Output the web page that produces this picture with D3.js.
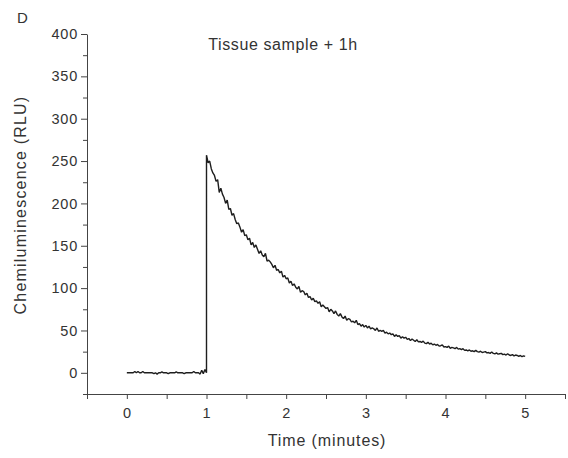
<!DOCTYPE html>
<html>
<head>
<meta charset="utf-8">
<script src="https://cdn.jsdelivr.net/npm/d3@7"></script>
<style>
  body { margin: 0; background: #fff; }
  text { font-family: "Liberation Sans", Arial, sans-serif; fill: #333; }
</style>
</head>
<body>
<div id="chart-container"></div>
<script>
// Sampling interval of the trace (minutes)
const sampleStep = 0.02;

// Baseline before the injection, t = 0 .. 1.00 min (RLU)
const baselineValues = [
  0, 0, 0, 0, 0, 1.5, 0, 1.5, 0, 0,
  1.5, 0, 0, 0, 0, 0, 0, -1, 0, -1.5,
  0, 0, 1, 0, 0, 0, -1, 0, 0, 0,
  0, 1, 0, 0, 0, 0, -1, 0, 0, 0,
  0, 0, 1.5, 0, 0, 0, -1.5, 3, -1, 4,
  0
];

// Decay after the injection, t = 1.00 .. 5.00 min (RLU)
const decayValues = [
  257, 248, 250, 241, 236, 233, 226, 228, 213, 218,
  211, 207, 200, 204, 193, 194, 186, 188, 181, 176,
  177, 172, 166, 169, 162, 163, 157, 159, 151, 154,
  148, 151, 146, 141, 144, 139, 137, 141, 132, 133,
  131, 128, 124, 127, 121, 122, 118, 120, 113, 115,
  111, 112, 106, 108, 103, 105, 101, 99, 102, 95,
  97, 96, 92, 94, 89, 90, 86, 88, 84, 85,
  82, 84, 78, 80, 78, 76, 77, 72, 75, 73,
  70, 73, 69, 67, 70, 66, 64, 67, 62, 64,
  63, 60, 61, 59, 62, 57, 58, 55, 57, 54,
  56, 53, 55, 52, 53, 52, 50, 53, 49, 50,
  49, 50, 47, 48, 46, 47, 45, 46, 43, 45,
  43, 44, 41, 42.5, 41, 42, 39.5, 40.5, 38, 40,
  38.5, 37, 39, 36.5, 37, 36, 37.5, 35, 34.5, 36,
  34, 35, 33, 34, 32.5, 33.5, 31.5, 32, 33, 30.5,
  31, 30, 31.5, 29, 30, 29.5, 28.5, 30, 28, 28.5,
  27.5, 28.5, 26.5, 27, 26, 27, 25.5, 26, 25, 26.5,
  25, 24.5, 25.5, 24, 24.5, 25, 23.5, 24, 23, 24.5,
  23, 22.5, 23.5, 22, 22.5, 23, 21.5, 22, 21, 22.5,
  21, 20.5, 21.5, 20, 21, 20.5, 19.5, 20.5, 19, 20,
  19.5
];

const xTicks = [0, 1, 2, 3, 4, 5];
const yTicks = [0, 50, 100, 150, 200, 250, 300, 350, 400];

const width = 568;
const height = 458;
const marginLeft = 87;
const marginRight = 3;
const marginTop = 34;
const marginBottom = 64;

const x = d3.scaleLinear()
  .domain([-0.5, 5.5])
  .range([marginLeft, width - marginRight]);

const y = d3.scaleLinear()
  .domain([-25, 400])
  .range([height - marginBottom, marginTop]);

// Build the trace points
const trace = baselineValues.map((v, i) => ({ t: i * sampleStep, v: v }))
  .concat(decayValues.map((v, i) => ({ t: 1 + i * sampleStep, v: v })));

const svg = d3.create("svg")
  .attr("width", width)
  .attr("height", height)
  .attr("viewBox", [0, 0, width, height]);

// x axis: minor ticks every 0.5 min, labels on whole minutes
svg.append("g")
  .attr("transform", `translate(0,${height - marginBottom})`)
  .call(d3.axisBottom(x).tickValues(d3.range(-0.5, 5.51, 0.5)).tickSize(5).tickSizeOuter(0)
    .tickFormat(d => xTicks.includes(d) ? d3.format("d")(d) : ""))
  .call(g => g.selectAll("text").attr("font-size", 14.5).attr("font-family", null)
    .attr("letter-spacing", 0.8).attr("dy", "1.1em"))
  .call(g => g.selectAll("line, path").attr("stroke", "#444"));

// y axis
svg.append("g")
  .attr("transform", `translate(${marginLeft},0)`)
  .call(d3.axisLeft(y).tickValues(d3.range(-25, 401, 25)).tickSize(5).tickSizeOuter(0)
    .tickFormat(d => yTicks.includes(d) ? d : ""))
  .call(g => g.selectAll("text").attr("font-size", 14.5).attr("font-family", null)
    .attr("letter-spacing", 0.8).attr("x", -9))
  .call(g => g.selectAll(".tick line").attr("x2", d => yTicks.includes(d) ? -6 : -4))
  .call(g => g.selectAll("line, path").attr("stroke", "#444"));

// Trace
const line = d3.line()
  .x(d => x(d.t))
  .y(d => y(d.v));

svg.append("path")
  .datum(trace)
  .attr("fill", "none")
  .attr("stroke", "#1e1e1e")
  .attr("stroke-width", 1.4)
  .attr("stroke-linejoin", "bevel")
  .attr("d", line);

// Labels
svg.append("text")
  .attr("x", 283)
  .attr("y", 50)
  .attr("text-anchor", "middle")
  .attr("font-size", 16)
  .attr("letter-spacing", 0.6)
  .text("Tissue sample + 1h");

svg.append("text")
  .attr("x", 17)
  .attr("y", 23)
  .attr("font-size", 15)
  .text("D");

svg.append("text")
  .attr("x", 327)
  .attr("y", 446)
  .attr("text-anchor", "middle")
  .attr("font-size", 16)
  .attr("letter-spacing", 0.9)
  .text("Time (minutes)");

svg.append("text")
  .attr("transform", "translate(26,205) rotate(-90)")
  .attr("text-anchor", "middle")
  .attr("font-size", 16)
  .attr("letter-spacing", 1.2)
  .text("Chemiluminescence (RLU)");

document.getElementById("chart-container").appendChild(svg.node());
</script>
</body>
</html>
